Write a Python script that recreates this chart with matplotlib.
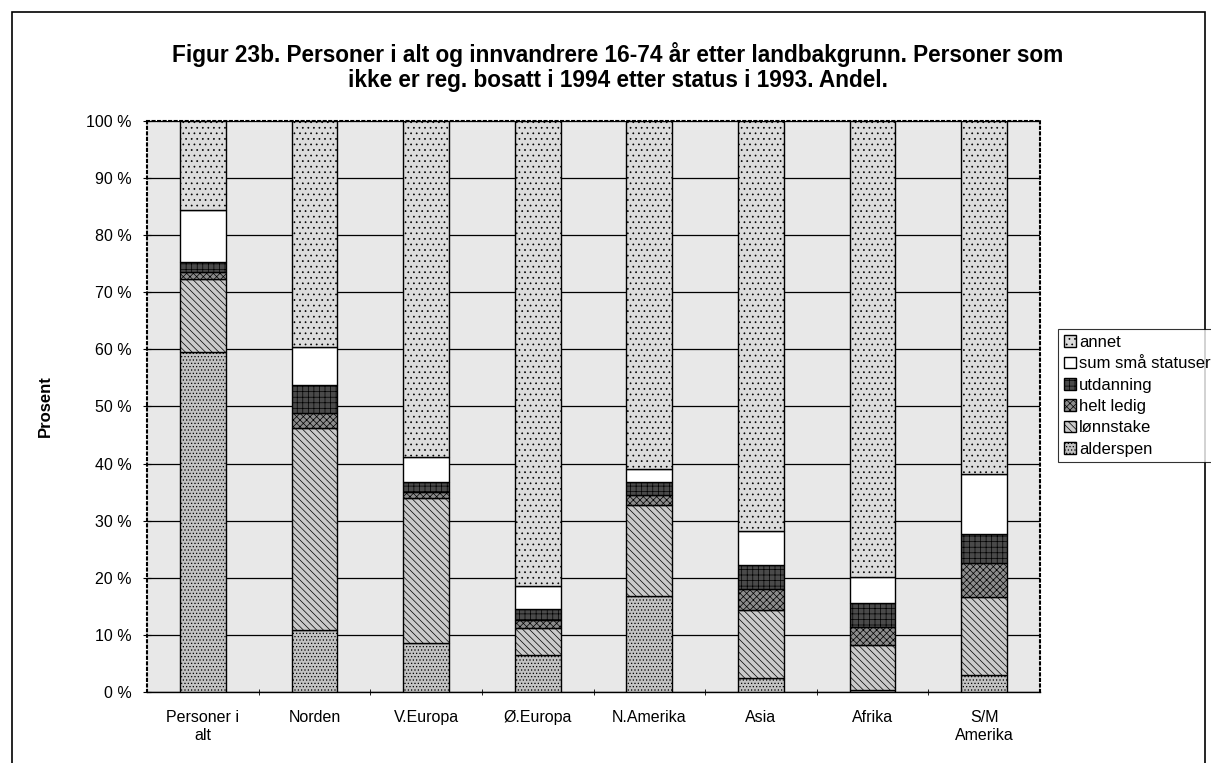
import matplotlib.pyplot as plt
from matplotlib.patches import Rectangle
import numpy as np

plt.rcParams['font.family'] = ['Liberation Sans', 'DejaVu Sans']
plt.rcParams['hatch.linewidth'] = 0.5

regions = ['Personer i\nalt', 'Norden', 'V.Europa', 'Ø.Europa', 'N.Amerika',
           'Asia', 'Afrika', 'S/M\nAmerika']

# andel i prosent, nedenfra og opp
alderspen = [59.6, 10.9, 8.6, 6.5, 16.8, 2.5, 0.3, 3.0]
lonnstake = [12.7, 35.3, 25.4, 4.7, 15.9, 11.9, 7.9, 13.6]
helt_ledig = [1.2, 2.7, 1.1, 1.4, 1.8, 3.6, 3.2, 6.0]
utdanning = [1.8, 4.9, 1.7, 1.9, 2.2, 4.2, 4.1, 5.1]
sum_sma = [9.2, 6.7, 4.4, 4.1, 2.3, 6.0, 4.7, 10.5]
annet = [15.5, 39.5, 58.8, 81.4, 61.0, 71.8, 79.8, 61.8]

series = [
    ('alderspen', alderspen, '#c2c2c2', '.....'),
    ('lønnstake', lonnstake, '#cacaca', '\\\\\\\\\\'),
    ('helt ledig', helt_ledig, '#8c8c8c', 'xxxxx'),
    ('utdanning', utdanning, '#4a4a4a', '+++'),
    ('sum små statuser', sum_sma, '#ffffff', ''),
    ('annet', annet, '#dcdcdc', '...'),
]

fig = plt.figure(figsize=(12.11, 7.63), dpi=100)
ax = fig.add_axes([0.1214, 0.0931, 0.7374, 0.7483])
ax.set_facecolor('#e8e8e8')

x = np.arange(len(regions))
bottom = np.zeros(len(regions))
handles = []
for name, vals, col, hatch in series:
    b = ax.bar(x, vals, width=0.41, bottom=bottom, color=col, hatch=hatch,
               edgecolor='black', linewidth=1.0, label=name, zorder=3)
    handles.append(b)
    bottom += np.array(vals)

ax.set_xlim(-0.5, len(regions) - 0.5)
ax.set_ylim(0, 100)
ax.set_yticks(np.arange(0, 101, 10))
ax.set_yticklabels([f'{v} %' for v in range(0, 101, 10)], fontsize=11.5)
ax.yaxis.grid(True, color='black', linewidth=0.9, zorder=1)
ax.set_axisbelow(True)

ax.set_xticks(x)
ax.set_xticklabels(regions, fontsize=11.5, linespacing=1.25)
ax.tick_params(axis='x', length=0, pad=13)
ax.set_xticks(np.arange(0.5, len(regions) - 0.5, 1), minor=True)
ax.tick_params(axis='x', which='minor', length=5, direction='inout')
ax.tick_params(axis='y', length=6, direction='inout', pad=8)

for side in ['top', 'right', 'left']:
    ax.spines[side].set_linestyle(':')
    ax.spines[side].set_linewidth(1.5)
ax.spines['bottom'].set_linewidth(1.0)

ax.set_ylabel('Prosent', fontsize=12, fontweight='bold', labelpad=24)

fig.text(0.51, 0.912, 'Figur 23b. Personer i alt og innvandrere 16-74 år etter landbakgrunn. Personer som\n'
         'ikke er reg. bosatt i 1994 etter status i 1993. Andel.',
         ha='center', va='center', fontsize=16.3, fontweight='bold', linespacing=1.1)

leg = fig.legend(handles[::-1], [s[0] for s in series][::-1], loc='upper left',
                 bbox_to_anchor=(0.8737, 0.5688), fontsize=12, frameon=True, fancybox=False,
                 handlelength=0.7, handleheight=0.7, handletextpad=0.2,
                 labelspacing=0.38, borderpad=0.35, borderaxespad=0)
leg.get_frame().set_edgecolor('black')
leg.get_frame().set_linewidth(0.8)

# ramme rundt hele figuren
fig.patches.append(Rectangle((0.0099, -0.01), 0.985, 0.9943, transform=fig.transFigure,
                             fill=False, edgecolor='black', linewidth=1.2))

fig.savefig('out.png', dpi=100)
